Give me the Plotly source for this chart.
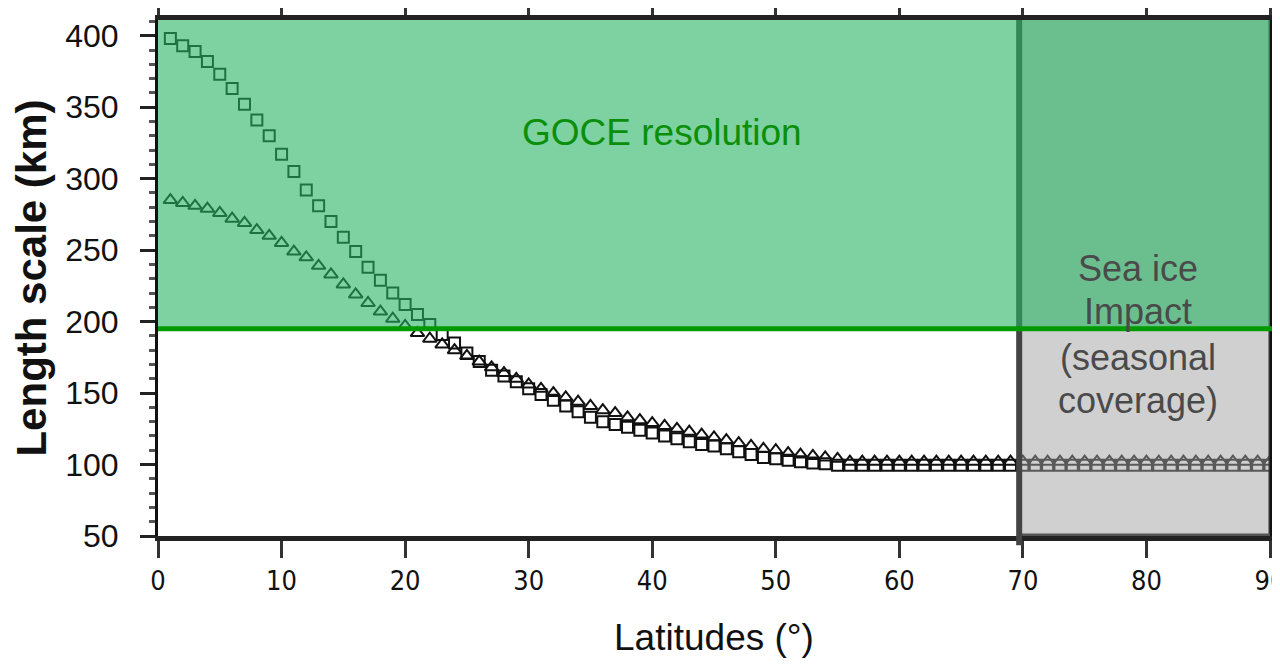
import plotly.graph_objects as go

# ---- data ----
latitudes = list(range(1, 91))

square_values = [398, 393, 389, 382, 373, 363, 352, 341, 330, 317,
                 305, 292, 281, 270, 259, 249, 238, 229, 220, 212,
                 205, 198, 191, 185, 178, 172, 166, 162, 158, 153,
                 149, 145, 141, 137, 133, 130, 128, 126, 124, 122,
                 120, 118, 116, 114, 113, 111, 109, 107, 105, 104,
                 103, 102, 101, 100.5] + [99.5] * 36

triangle_values = [285, 283, 281, 279, 276, 272, 269, 264, 260, 255,
                   249, 245, 239, 233, 226, 219, 213, 207, 202, 197,
                   192, 188, 184, 180, 176, 172, 168, 164, 160, 156,
                   153, 150, 147, 144, 141, 138, 136, 133, 131, 129,
                   127, 125, 123, 121, 119, 117, 115, 113, 111, 110,
                   108, 107, 106, 105, 104] + [102] * 35

x_ticks = [0, 10, 20, 30, 40, 50, 60, 70, 80, 90]
y_ticks = [50, 100, 150, 200, 250, 300, 350, 400]

sea_ice_lines = ["Sea ice", "Impact", "(seasonal", "coverage)"]
sea_ice_line_y = [237, 207, 175, 145]

goce_limit = 195
sea_ice_start = 69.7
x_max = 90
y_min, y_max = 50, 411

fig = go.Figure()

fig.add_trace(go.Scatter(
    x=latitudes, y=square_values, mode="markers",
    marker=dict(symbol="square-open", size=11, color="#111111",
                line=dict(width=2, color="#111111")),
    showlegend=False, hoverinfo="skip"))

fig.add_trace(go.Scatter(
    x=latitudes, y=triangle_values, mode="markers",
    marker=dict(symbol="triangle-up-open", size=12, color="#111111",
                line=dict(width=2, color="#111111")),
    showlegend=False, hoverinfo="skip"))

shapes = [
    # sea ice region (grey, translucent)
    dict(type="rect", xref="x", yref="y", x0=sea_ice_start, x1=x_max,
         y0=y_min, y1=y_max, fillcolor="rgba(161,161,161,0.5)",
         line=dict(width=0), layer="above"),
    dict(type="line", xref="x", yref="y", x0=x_max, x1=x_max,
         y0=y_min, y1=y_max, line=dict(color="#333333", width=3), layer="above"),
    dict(type="line", xref="x", yref="y", x0=sea_ice_start, x1=x_max,
         y0=y_min, y1=y_min, line=dict(color="#555555", width=5), layer="above"),
    # thick separator at 70°
    dict(type="line", xref="x", yref="paper", x0=sea_ice_start, x1=sea_ice_start,
         y0=-0.018, y1=1, line=dict(color="#444444", width=6), layer="above"),
    # GOCE resolution region (green, translucent)
    dict(type="rect", xref="x", yref="y", x0=0, x1=x_max,
         y0=goce_limit, y1=y_max, fillcolor="rgba(40,180,100,0.6)",
         line=dict(width=0), layer="above"),
    # GOCE limit line
    dict(type="line", xref="paper", yref="y", x0=0, x1=1.01,
         y0=goce_limit, y1=goce_limit, line=dict(color="#009a00", width=5),
         layer="above"),
]

annotations = [
    dict(x=40.8, y=332, xref="x", yref="y", text="GOCE resolution",
         showarrow=False, font=dict(family="Liberation Sans, Arial", size=37,
                                    color="#0a8f0a")),
]
for line_text, line_y in zip(sea_ice_lines, sea_ice_line_y):
    annotations.append(dict(
        x=79.3, y=line_y, xref="x", yref="y", text=line_text, showarrow=False,
        font=dict(family="Liberation Sans, Arial", size=36, color="#4a4a4a")))

fig.update_layout(
    width=1280, height=664,
    margin=dict(l=150, r=18, t=12, b=136),
    paper_bgcolor="white", plot_bgcolor="white",
    shapes=shapes, annotations=annotations,
    font=dict(family="Liberation Sans, Arial", color="#111111"),
)

fig.update_xaxes(
    range=[0, x_max], tickvals=x_ticks, ticktext=[str(v) for v in x_ticks],
    automargin=False,
    showgrid=False, zeroline=False,
    showline=True, linecolor="#222222", linewidth=5, mirror="ticks",
    ticks="outside", ticklen=17, tickwidth=3, tickcolor="#333333",
    ticklabelstandoff=0,
    tickfont=dict(family="Liberation Sans Narrow, Arial Narrow, DejaVu Sans Condensed, Liberation Sans",
                  size=27, color="#111111"),
    title=dict(text="Latitudes (°)", font=dict(family="Liberation Sans, Arial", size=37,
                                               color="#111111"), standoff=30),
)

fig.update_yaxes(
    range=[y_min, y_max], tickvals=y_ticks, ticktext=[str(v) for v in y_ticks],
    automargin=False,
    showgrid=False, zeroline=False,
    showline=True, linecolor="#111111", linewidth=3, mirror="ticks",
    ticks="outside", ticklen=15, tickwidth=3, tickcolor="#222222",
    ticklabelstandoff=15,
    minor=dict(ticks="outside", dtick=10, tick0=50, ticklen=6, tickwidth=3,
               tickcolor="#555555", showgrid=False),
    tickfont=dict(family="Liberation Sans, Arial", size=32, color="#111111"),
    title=dict(text="<b>Length scale (km)</b>",
               font=dict(family="Liberation Sans, Arial", size=42, color="#111111"),
               standoff=23),
)

fig.write_html("out.html")
